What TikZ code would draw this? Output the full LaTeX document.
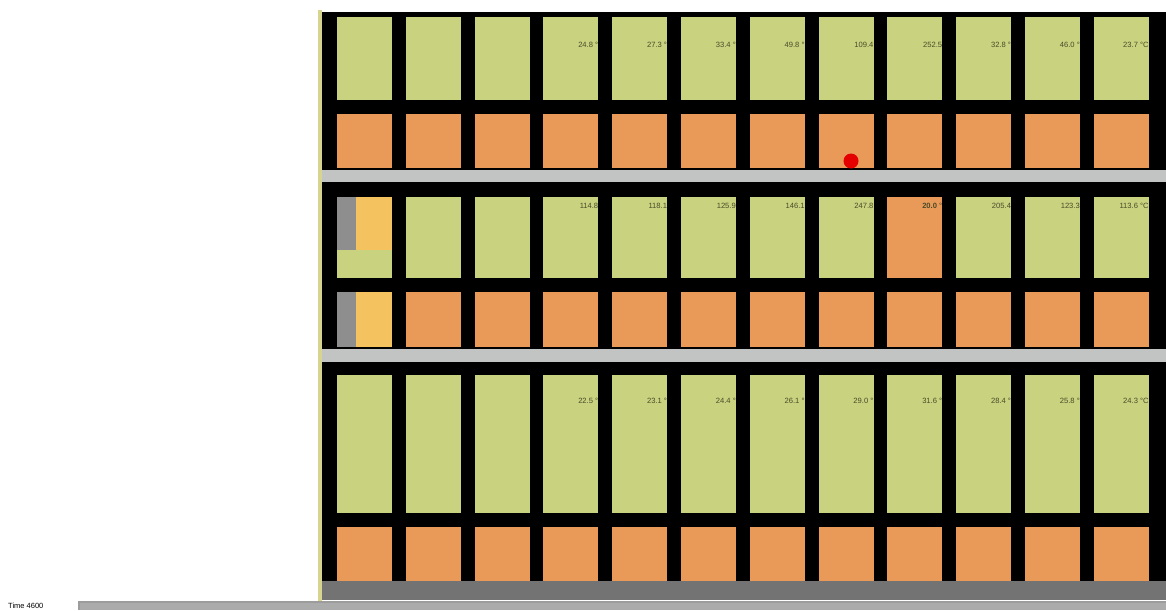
\documentclass[tikz,border=0pt]{standalone}
\usepackage{fontspec}
\setmainfont{Liberation Sans}
\definecolor{cellgreen}{HTML}{C8D27F}
\definecolor{cellorange}{HTML}{E99A58}
\definecolor{cellyellow}{HTML}{F4C25F}
\definecolor{stripgray}{HTML}{8E8E8E}
\definecolor{bandgray}{HTML}{C2C4C4}
\definecolor{darkband}{HTML}{737373}
\definecolor{labelcol}{HTML}{4A4A28}
\definecolor{edgeyellow}{HTML}{D6D48E}
\definecolor{slidergray}{HTML}{9C9C9C}
\begin{document}
\begin{tikzpicture}[x=1pt,y=-1pt,
  greencell/.style={fill=cellgreen},
  orangecell/.style={fill=cellorange},
  templabel/.style={anchor=east,inner sep=0pt,font=\fontsize{7.6}{8}\selectfont,text=labelcol}]
\useasboundingbox (0,0) rectangle (1166,610);
% frame
\fill[black] (322,12) rectangle (1166,600);
\fill[edgeyellow] (318,10) rectangle (322,604);
% bands
\fill[bandgray] (322,170) rectangle (1166,182);
\fill[bandgray] (322,349) rectangle (1166,362);
\fill[darkband] (322,581) rectangle (1166,600);
% cells
\foreach \i in {1,...,12}{
  \pgfmathsetmacro{\xl}{337+(\i-1)*68.8}
  \pgfmathsetmacro{\xr}{\xl+55}
  \fill[greencell] (\xl,17) rectangle (\xr,100);
  \fill[orangecell] (\xl,114) rectangle (\xr,168);
  \fill[greencell] (\xl,375) rectangle (\xr,513);
  \fill[orangecell] (\xl,527) rectangle (\xr,581);
  \ifnum\i>1
    \fill[orangecell] (\xl,292) rectangle (\xr,347);
    \ifnum\i=9
      \fill[orangecell] (\xl,197) rectangle (\xr,278);
    \else
      \fill[greencell] (\xl,197) rectangle (\xr,278);
    \fi
  \fi
}
% first column, middle section
\fill[stripgray] (337,197) rectangle (356,250);
\fill[cellyellow] (356,197) rectangle (392,250);
\fill[greencell] (337,250) rectangle (392,278);
\fill[stripgray] (337,292) rectangle (356,347);
\fill[cellyellow] (356,292) rectangle (392,347);
% labels
\foreach \t [count=\k from 4] in {24.8 °,27.3 °,33.4 °,49.8 °,109.4,252.5,32.8 °,46.0 °,23.7 °C}{
  \pgfmathsetmacro{\xr}{337+(\k-1)*68.8+55}
  \node[templabel] (top\k) at (\xr,45) {\t};
}
\foreach \t [count=\k from 4] in {114.8,118.1,125.9,146.1,247.8,{\textbf{20.0} °},205.4,123.3,113.6 °C}{
  \pgfmathsetmacro{\xr}{337+(\k-1)*68.8+55}
  \node[templabel] (mid\k) at (\xr,206) {\t};
}
\foreach \t [count=\k from 4] in {22.5 °,23.1 °,24.4 °,26.1 °,29.0 °,31.6 °,28.4 °,25.8 °,24.3 °C}{
  \pgfmathsetmacro{\xr}{337+(\k-1)*68.8+55}
  \node[templabel] (bot\k) at (\xr,401) {\t};
}
% red marker
\fill[red!90!black] (851,161) circle (7.5);
% time slider
\fill[slidergray] (78,601) rectangle (1166,610);
\fill[slidergray!85!white] (80,603) rectangle (1166,610);
\node[anchor=west,inner sep=0pt,font=\fontsize{7.5}{8}\selectfont] (time) at (8,606) {Time 4600};
\end{tikzpicture}
\end{document}
